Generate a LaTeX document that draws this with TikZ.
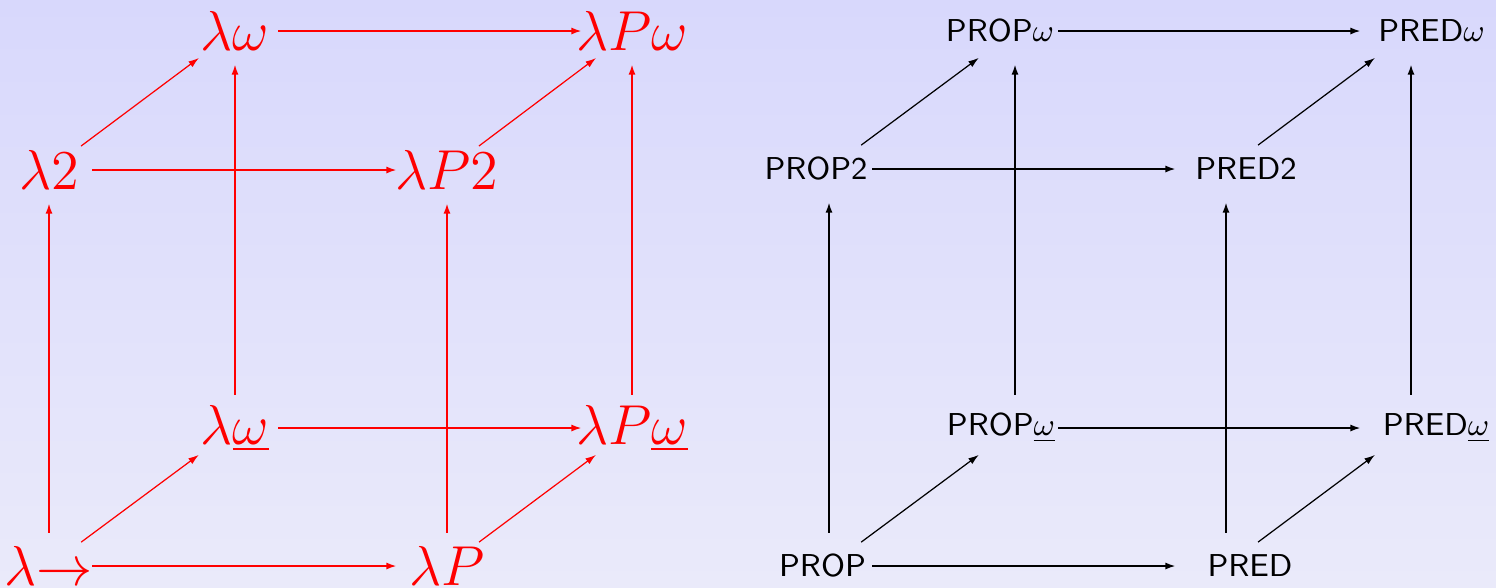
\documentclass[tikz,border=0pt]{standalone}
\usepackage{fix-cm}
\usetikzlibrary{arrows.meta, shapes.geometric}
\definecolor{bgtop}{RGB}{216,216,252}
\definecolor{bgbot}{RGB}{234,234,250}

\tikzset{
  vtx/.style={ellipse, minimum width=0.93cm, minimum height=0.66cm, inner sep=0pt, outer sep=0pt},
  edge/.style={-{Latex[length=3pt,width=2pt]}, line width=0.6pt},
  hor/.style={edge, shorten <=-0.035cm, shorten >=0.035cm},
  diag/.style={-{Latex[length=3pt,width=2pt]}, line width=0.35pt, shorten >=0.05cm},
  lam/.style={red, font=\fontsize{16}{19}\selectfont},
  sys/.style={font=\fontsize{9}{11}\selectfont\sffamily},
}

\begin{document}
\begin{tikzpicture}[x=0.01cm, y=-0.01cm]
  % background
  \shade[top color=bgtop, bottom color=bgbot] (0,0) rectangle (1496,587);
  \useasboundingbox (0,0) rectangle (1496,587);

  % Left: lambda cube
  \begin{scope}[red]
    \node[vtx] (l-arr) at (49,566) {};
    \node[vtx] (l-P)   at (447,566) {};
    \node[vtx] (l-2)   at (49,170) {};
    \node[vtx] (l-P2)  at (447,170) {};
    \node[vtx] (l-wu)  at (235,428) {};
    \node[vtx] (l-Pwu) at (632,428) {};
    \node[vtx] (l-w)   at (235,31) {};
    \node[vtx] (l-Pw)  at (632,31) {};
    \node[lam] (t-arr) at (l-arr) {$\lambda{\to}$};
    \node[lam] (t-P)   at (l-P)   {$\lambda P$};
    \node[lam] (t-2)   at (l-2)   {$\lambda 2$};
    \node[lam] (t-P2)  at (l-P2)  {$\lambda P2$};
    \node[lam] (t-wu)  at (l-wu)  {$\lambda\underline{\omega}$};
    \node[lam] (t-Pwu) at (l-Pwu) {$\lambda P\underline{\omega}$};
    \node[lam] (t-w)   at (l-w)   {$\lambda\omega$};
    \node[lam] (t-Pw)  at (l-Pw)  {$\lambda P\omega$};
    \foreach \a/\b in {l-arr/l-P, l-2/l-P2, l-wu/l-Pwu, l-w/l-Pw}
      \draw[hor] (\a) -- (\b);
    \foreach \a/\b in {l-arr/l-2, l-P/l-P2, l-wu/l-w, l-Pwu/l-Pw}
      \draw[edge] (\a) -- (\b);
    \foreach \a/\b in {l-arr/l-wu, l-P/l-Pwu, l-2/l-w, l-P2/l-Pw}
      \draw[diag] (\a) -- (\b);
  \end{scope}

  % Right: PROP/PRED cube
  \begin{scope}[black]
    \node[vtx] (prop)   at (829,566) {};
    \node[vtx] (pred)   at (1226,566) {};
    \node[vtx] (prop2)  at (829,169) {};
    \node[vtx] (pred2)  at (1226,169) {};
    \node[vtx] (propwu) at (1015,428) {};
    \node[vtx] (predwu) at (1411,428) {};
    \node[vtx] (propw)  at (1015,31) {};
    \node[vtx] (predw)  at (1411,31) {};
    \node[sys, xshift=-0.065cm] (t-prop)   at (prop)   {PROP};
    \node[sys, xshift=0.24cm]   (t-pred)   at (pred)   {PRED};
    \node[sys, xshift=-0.13cm]  (t-prop2)  at (prop2)  {PROP2};
    \node[sys, xshift=0.2cm]    (t-pred2)  at (pred2)  {PRED2};
    \node[sys, xshift=-0.14cm]  (t-propwu) at (propwu) {PROP$\underline{\omega}$};
    \node[sys, xshift=0.25cm]   (t-predwu) at (predwu) {PRED$\underline{\omega}$};
    \node[sys, xshift=-0.15cm]  (t-propw)  at (propw)  {PROP$\omega$};
    \node[sys, xshift=0.205cm]  (t-predw)  at (predw)  {PRED$\omega$};
    \foreach \a/\b in {prop/pred, prop2/pred2, propwu/predwu, propw/predw}
      \draw[hor] (\a) -- (\b);
    \foreach \a/\b in {prop/prop2, pred/pred2, propwu/propw, predwu/predw}
      \draw[edge] (\a) -- (\b);
    \foreach \a/\b in {prop/propwu, pred/predwu, prop2/propw, pred2/predw}
      \draw[diag] (\a) -- (\b);
  \end{scope}
\end{tikzpicture}
\end{document}
